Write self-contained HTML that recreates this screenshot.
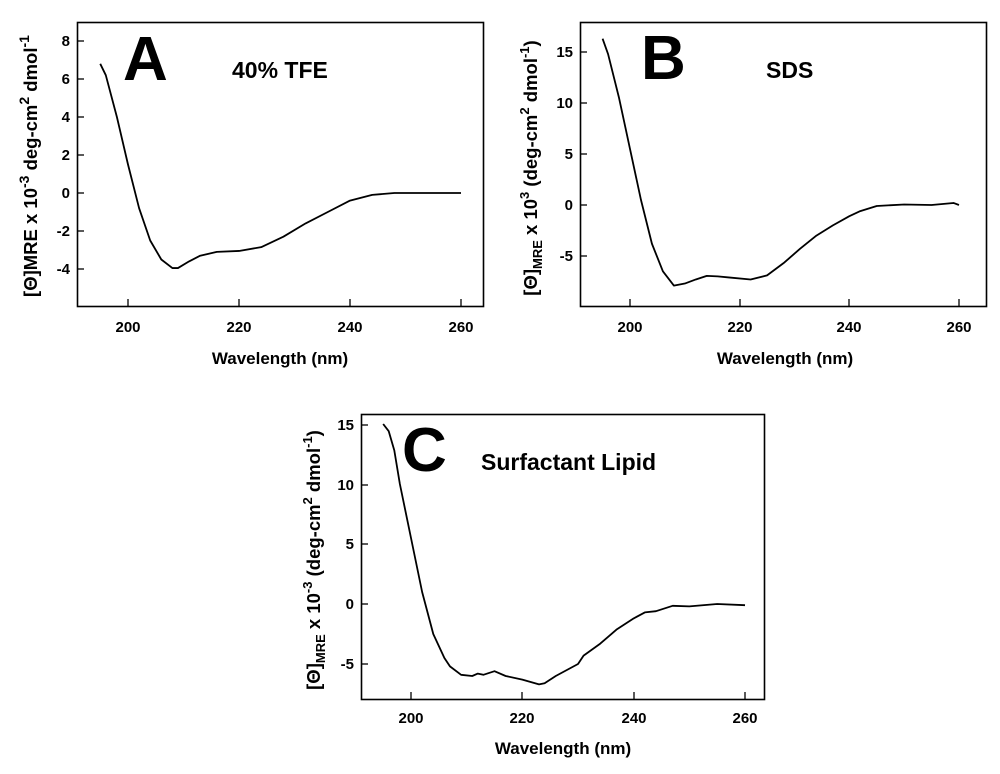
<!DOCTYPE html>
<html><head><meta charset="utf-8"><style>
body{margin:0;background:#fff}
svg{display:block;font-family:"Liberation Sans",Arial,sans-serif}
.t{font-size:15px;font-weight:bold}
.at{font-size:17px;font-weight:bold}
.yt{font-size:18.5px;font-weight:bold}
.big{font-family:"Liberation Sans",sans-serif;font-weight:bold;font-size:62px}
.lab{font-family:"Liberation Sans",sans-serif;font-weight:bold;font-size:23px}
.c{fill:none;stroke:#000;stroke-width:1.8;vector-effect:non-scaling-stroke;stroke-linejoin:round}
</style></head><body>
<svg width="1000" height="774" viewBox="0 0 1000 774" xmlns="http://www.w3.org/2000/svg">
<!-- Panel A -->
<rect x="77.5" y="22.5" width="406" height="284" fill="none" stroke="#000" stroke-width="1.6"/>
<g stroke="#000" stroke-width="1.3">
<line x1="128" y1="306" x2="128" y2="299"/><line x1="239" y1="306" x2="239" y2="299"/><line x1="350" y1="306" x2="350" y2="299"/><line x1="461" y1="306" x2="461" y2="299"/>
<line x1="77" y1="41" x2="84" y2="41"/><line x1="77" y1="79" x2="84" y2="79"/><line x1="77" y1="117" x2="84" y2="117"/><line x1="77" y1="155" x2="84" y2="155"/><line x1="77" y1="193" x2="84" y2="193"/><line x1="77" y1="231" x2="84" y2="231"/><line x1="77" y1="269" x2="84" y2="269"/>
</g>
<g class="t" text-anchor="middle"><text x="128" y="332">200</text><text x="239" y="332">220</text><text x="350" y="332">240</text><text x="461" y="332">260</text></g>
<g class="t" text-anchor="end"><text x="70" y="46">8</text><text x="70" y="84">6</text><text x="70" y="122">4</text><text x="70" y="160">2</text><text x="70" y="198">0</text><text x="70" y="236">-2</text><text x="70" y="274">-4</text></g>
<text class="at" x="280" y="364" text-anchor="middle">Wavelength (nm)</text>
<text class="yt" transform="translate(37,166) rotate(-90)" text-anchor="middle">[Θ]MRE x 10<tspan dy="-8" font-size="14">-3</tspan><tspan dy="8"> deg-cm</tspan><tspan dy="-8" font-size="14">2</tspan><tspan dy="8"> dmol</tspan><tspan dy="-8" font-size="14">-1</tspan></text>
<text class="big" x="123" y="80">A</text>
<text class="lab" x="232" y="78">40% TFE</text>
<g transform="translate(128,193) scale(5.55,-19)">
<polyline class="c" points="-5,6.8 -4,6.2 -2,4 0,1.5 2,-0.8 4,-2.5 6,-3.5 8,-3.95 9,-3.95 11,-3.6 13,-3.3 16,-3.1 20,-3.05 24,-2.85 28,-2.3 32,-1.6 36,-1 40,-0.4 44,-0.1 48,0 60,0"/>
</g>
<!-- Panel B -->
<rect x="580.5" y="22.5" width="406" height="284" fill="none" stroke="#000" stroke-width="1.6"/>
<g stroke="#000" stroke-width="1.3">
<line x1="630" y1="306" x2="630" y2="299"/><line x1="740" y1="306" x2="740" y2="299"/><line x1="849" y1="306" x2="849" y2="299"/><line x1="959" y1="306" x2="959" y2="299"/>
<line x1="580" y1="52" x2="587" y2="52"/><line x1="580" y1="103" x2="587" y2="103"/><line x1="580" y1="154" x2="587" y2="154"/><line x1="580" y1="205" x2="587" y2="205"/><line x1="580" y1="256" x2="587" y2="256"/>
</g>
<g class="t" text-anchor="middle"><text x="630" y="332">200</text><text x="740" y="332">220</text><text x="849" y="332">240</text><text x="959" y="332">260</text></g>
<g class="t" text-anchor="end"><text x="573" y="57">15</text><text x="573" y="108">10</text><text x="573" y="159">5</text><text x="573" y="210">0</text><text x="573" y="261">-5</text></g>
<text class="at" x="785" y="364" text-anchor="middle">Wavelength (nm)</text>
<text class="yt" transform="translate(537,168) rotate(-90)" text-anchor="middle">[Θ]<tspan dy="5" font-size="13">MRE</tspan><tspan dy="-5"> x 10</tspan><tspan dy="-8" font-size="13">3</tspan><tspan dy="8"> (deg-cm</tspan><tspan dy="-8" font-size="13">2</tspan><tspan dy="8"> dmol</tspan><tspan dy="-8" font-size="13">-1</tspan><tspan dy="8">)</tspan></text>
<text class="big" x="641" y="79">B</text>
<text class="lab" x="766" y="78">SDS</text>
<g transform="translate(630,205) scale(5.483,-10.2)">
<polyline class="c" points="-5,16.3 -4,14.8 -2,10.5 0,5.5 2,0.5 4,-3.8 6,-6.5 8,-7.9 10,-7.7 12,-7.3 14,-6.95 16,-7 18,-7.1 22,-7.3 25,-6.9 28,-5.7 31,-4.3 34,-3 37,-2 40,-1.1 42,-0.6 45,-0.1 50,0.05 55,0 59,0.2 60,0"/>
</g>
<!-- Panel C -->
<rect x="361.5" y="414.5" width="403" height="285" fill="none" stroke="#000" stroke-width="1.6"/>
<g stroke="#000" stroke-width="1.3">
<line x1="411" y1="699" x2="411" y2="692"/><line x1="522" y1="699" x2="522" y2="692"/><line x1="634" y1="699" x2="634" y2="692"/><line x1="745" y1="699" x2="745" y2="692"/>
<line x1="361" y1="425" x2="368" y2="425"/><line x1="361" y1="485" x2="368" y2="485"/><line x1="361" y1="544" x2="368" y2="544"/><line x1="361" y1="604" x2="368" y2="604"/><line x1="361" y1="664" x2="368" y2="664"/>
</g>
<g class="t" text-anchor="middle"><text x="411" y="723">200</text><text x="522" y="723">220</text><text x="634" y="723">240</text><text x="745" y="723">260</text></g>
<g class="t" text-anchor="end"><text x="354" y="430">15</text><text x="354" y="490">10</text><text x="354" y="549">5</text><text x="354" y="609">0</text><text x="354" y="669">-5</text></g>
<text class="at" x="563" y="754" text-anchor="middle">Wavelength (nm)</text>
<text class="yt" transform="translate(320,560) rotate(-90)" text-anchor="middle">[Θ]<tspan dy="5" font-size="13">MRE</tspan><tspan dy="-5"> x 10</tspan><tspan dy="-8" font-size="13">-3</tspan><tspan dy="8"> (deg-cm</tspan><tspan dy="-8" font-size="13">2</tspan><tspan dy="8"> dmol</tspan><tspan dy="-8" font-size="13">-1</tspan><tspan dy="8">)</tspan></text>
<text class="big" x="402" y="471">C</text>
<text class="lab" x="481" y="470">Surfactant Lipid</text>
<g transform="translate(411,604) scale(5.567,-12)">
<polyline class="c" points="-5,15 -4,14.4 -3,12.8 -2,10 0,5.5 2,1 4,-2.5 6,-4.5 7,-5.2 9,-5.9 11,-6 12,-5.8 13,-5.9 15,-5.6 17,-6 20,-6.3 23,-6.7 24,-6.6 26,-6 30,-5 31,-4.3 34,-3.3 37,-2.1 40,-1.2 42,-0.7 44,-0.6 47,-0.15 50,-0.2 55,0 60,-0.1"/>
</g>
</svg>
</body></html>
